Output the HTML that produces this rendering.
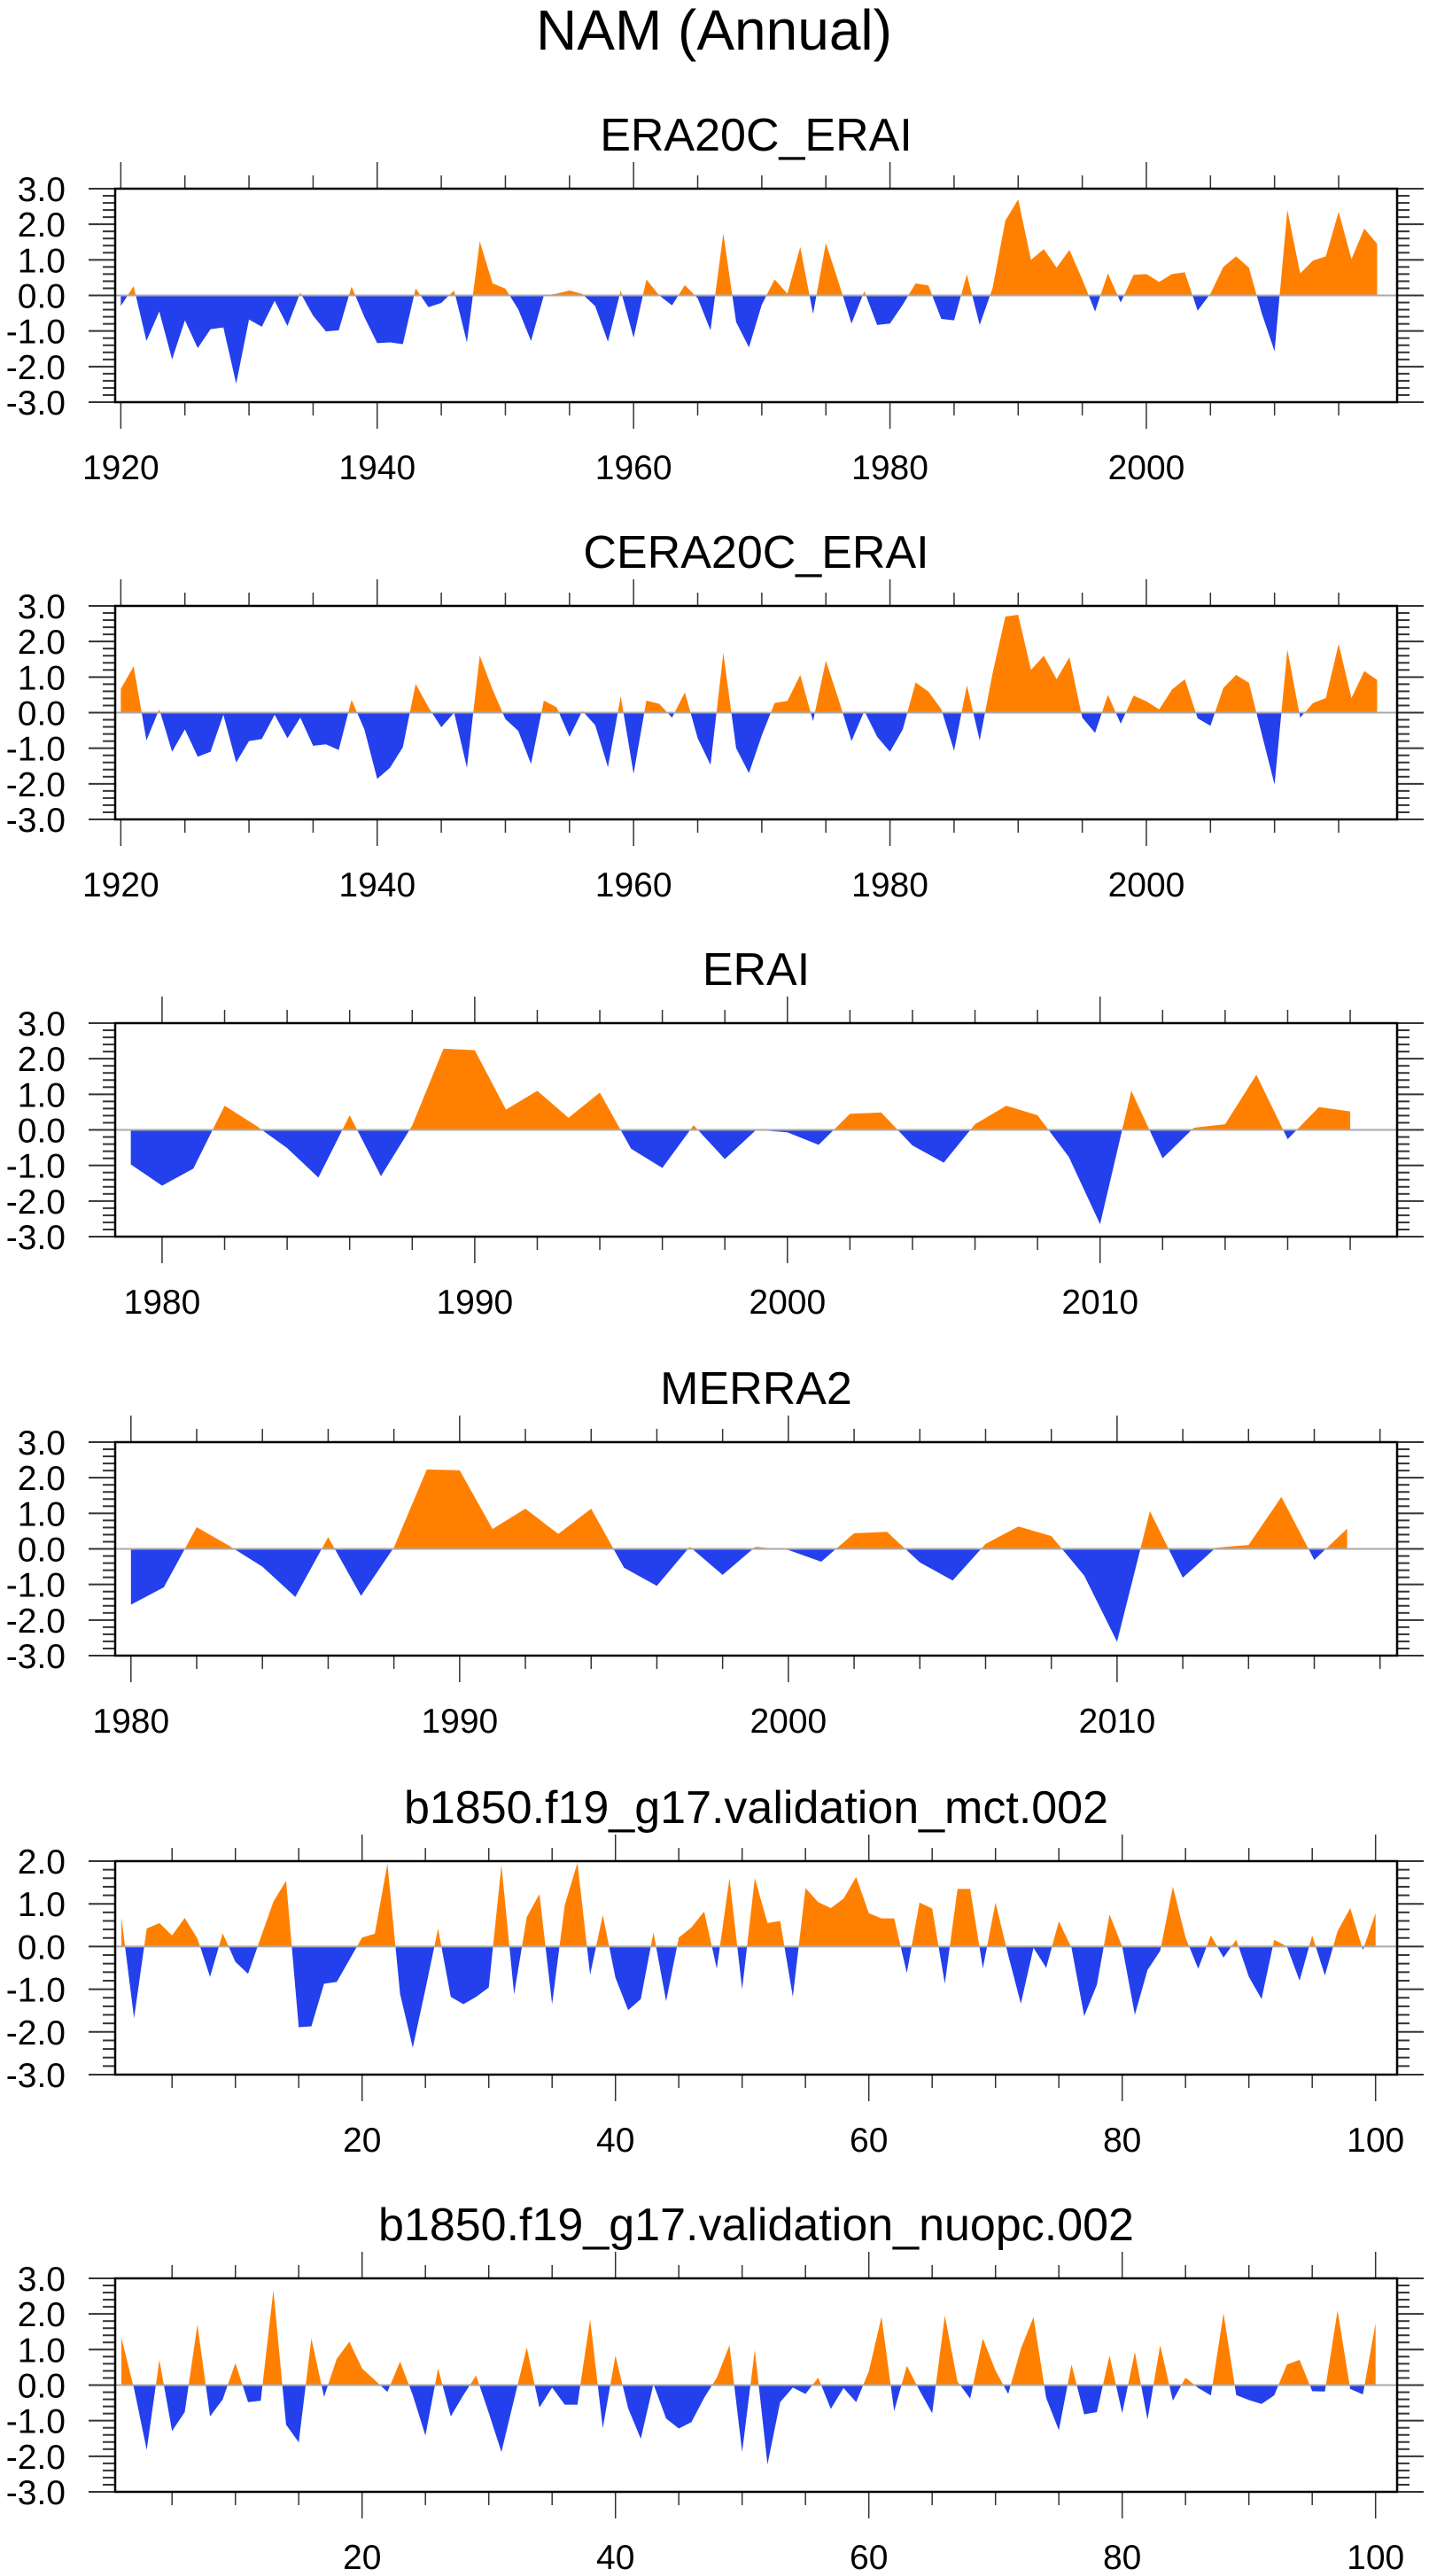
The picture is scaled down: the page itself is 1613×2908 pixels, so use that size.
<!DOCTYPE html>
<html><head><meta charset="utf-8"><style>
html,body{margin:0;padding:0;background:#fff;}
svg{display:block;font-family:"Liberation Sans",Arial,sans-serif;}
</style></head><body>
<svg id="chart" width="1613" height="2908" viewBox="0 0 1613 2908" xmlns="http://www.w3.org/2000/svg">
<text x="806" y="56" font-size="64" text-anchor="middle">NAM (Annual)</text>
</svg>
<script>
const era20cValues=[-0.3,0.26,-1.28,-0.45,-1.8,-0.7,-1.48,-0.95,-0.9,-2.48,-0.68,-0.88,-0.15,-0.86,0.08,-0.57,-1.01,-0.98,0.25,-0.61,-1.34,-1.32,-1.37,0.2,-0.33,-0.21,0.14,-1.32,1.52,0.34,0.19,-0.39,-1.28,0,0.05,0.14,0.04,-0.3,-1.3,0.14,-1.19,0.45,0,-0.28,0.29,-0.08,-0.98,1.74,-0.75,-1.46,-0.26,0.45,0.05,1.36,-0.52,1.47,0.36,-0.79,0.12,-0.83,-0.79,-0.26,0.34,0.28,-0.66,-0.7,0.59,-0.83,0.2,2.1,2.7,1.0,1.3,0.78,1.28,0.45,-0.45,0.62,-0.2,0.58,0.6,0.38,0.6,0.65,-0.43,0.05,0.8,1.1,0.78,-0.5,-1.57,2.4,0.62,0.98,1.1,2.35,1.02,1.88,1.45];
const cera20cValues=[0.67,1.3,-0.78,0.1,-1.1,-0.47,-1.24,-1.1,-0.06,-1.4,-0.8,-0.74,-0.06,-0.72,-0.14,-0.93,-0.89,-1.05,0.36,-0.47,-1.86,-1.55,-0.97,0.81,0.15,-0.41,0,-1.55,1.6,0.65,-0.18,-0.51,-1.44,0.34,0.15,-0.68,0.05,-0.35,-1.53,0.46,-1.72,0.34,0.25,-0.14,0.57,-0.72,-1.47,1.68,-1.0,-1.7,-0.64,0.27,0.33,1.06,-0.24,1.46,0.36,-0.8,0.05,-0.68,-1.1,-0.47,0.85,0.59,0.1,-1.07,0.77,-0.78,1.1,2.7,2.75,1.2,1.6,0.94,1.56,-0.14,-0.57,0.5,-0.31,0.48,0.32,0.09,0.65,0.94,-0.16,-0.37,0.69,1.06,0.84,-0.6,-2.02,1.77,-0.14,0.27,0.41,1.93,0.41,1.17,0.92];
const eraiValues=[-0.97,-1.57,-1.09,0.68,0.12,-0.51,-1.34,0.41,-1.3,0.12,2.28,2.24,0.57,1.1,0.34,1.05,-0.53,-1.07,0.13,-0.82,0,-0.07,-0.42,0.45,0.49,-0.44,-0.92,0.16,0.68,0.41,-0.76,-2.65,1.1,-0.8,0.06,0.16,1.55,-0.26,0.64,0.52];
const merra2Values=[-1.57,-1.08,0.61,0.08,-0.5,-1.35,0.33,-1.32,0.04,2.23,2.21,0.56,1.13,0.42,1.13,-0.53,-1.04,0.06,-0.73,0.06,-0.03,-0.36,0.44,0.48,-0.38,-0.89,0.14,0.63,0.36,-0.75,-2.61,1.06,-0.81,0.03,0.11,1.46,-0.31,0.57];
const mctValues=[0.68,-1.68,0.42,0.55,0.26,0.67,0.19,-0.71,0.31,-0.36,-0.64,0.21,1.05,1.54,-1.89,-1.87,-0.87,-0.83,-0.31,0.21,0.3,1.94,-1.11,-2.37,-1.0,0.42,-1.18,-1.35,-1.18,-0.96,1.91,-1.12,0.69,1.23,-1.35,0.97,1.96,-0.66,0.74,-0.73,-1.49,-1.23,0.33,-1.28,0.21,0.45,0.82,-0.52,1.6,-1.0,1.6,0.55,0.6,-1.18,1.37,1.04,0.9,1.12,1.63,0.78,0.66,0.66,-0.62,1.03,0.89,-0.87,1.35,1.35,-0.51,1.03,-0.2,-1.34,-0.03,-0.5,0.59,-0.03,-1.63,-0.9,0.75,0,-1.6,-0.55,-0.1,1.4,0.21,-0.52,0.26,-0.26,0.16,-0.71,-1.23,0.16,0,-0.8,0.26,-0.68,0.36,0.9,-0.08,0.78];
const nuopcValues=[1.33,-0.1,-1.82,0.71,-1.29,-0.76,1.7,-0.88,-0.4,0.62,-0.48,-0.44,2.67,-1.11,-1.61,1.31,-0.33,0.74,1.22,0.47,0.14,-0.19,0.66,-0.28,-1.42,0.47,-0.88,-0.28,0.27,-0.78,-1.88,-0.4,1.06,-0.63,-0.07,-0.55,-0.55,1.85,-1.21,0.83,-0.65,-1.51,0.03,-0.94,-1.22,-1.04,-0.36,0.21,1.12,-1.88,0.99,-2.23,-0.48,-0.07,-0.25,0.21,-0.67,-0.08,-0.48,0.39,1.92,-0.73,0.54,-0.15,-0.79,1.95,0.1,-0.38,1.31,0.41,-0.25,1.02,1.91,-0.36,-1.27,0.58,-0.82,-0.76,0.83,-0.79,0.93,-0.97,1.12,-0.44,0.21,-0.08,-0.29,2.02,-0.28,-0.42,-0.53,-0.29,0.58,0.71,-0.17,-0.18,2.1,-0.11,-0.26,1.74];
const panelTitles=["ERA20C_ERAI","CERA20C_ERAI","ERAI","MERRA2","b1850.f19_g17.validation_mct.002","b1850.f19_g17.validation_nuopc.002"];
const panelStarts=[1920,1920,1979,1980,1,1];
const yTickLabels=["3.0","2.0","1.0","0.0","-1.0","-2.0","-3.0"];

const NS="http://www.w3.org/2000/svg";
const svg=document.getElementById('chart');
function mk(tag,attrs,parent){const e=document.createElementNS(NS,tag);for(const k in attrs)e.setAttribute(k,attrs[k]);(parent||svg).appendChild(e);return e;}

const L=130,R=1577,H=241;
const tops=[213,684,1155,1628,2101,2572];
const cfg=[
 {vals:era20cValues,xmin:1919.56,xmax:2019.56,ymin:-3,ymax:3,major:20,minor:5,mstart:1920},
 {vals:cera20cValues,xmin:1919.56,xmax:2019.56,ymin:-3,ymax:3,major:20,minor:5,mstart:1920},
 {vals:eraiValues,xmin:1978.5,xmax:2019.5,ymin:-3,ymax:3,major:10,minor:2,mstart:1980},
 {vals:merra2Values,xmin:1979.52,xmax:2018.52,ymin:-3,ymax:3,major:10,minor:2,mstart:1980},
 {vals:mctValues,xmin:0.51,xmax:101.7,ymin:-3,ymax:2,major:20,minor:5,mstart:20},
 {vals:nuopcValues,xmin:0.51,xmax:101.7,ymin:-3,ymax:3,major:20,minor:5,mstart:20}
];

cfg.forEach((c,p)=>{
  const T=tops[p],B=T+H;
  const xs=v=>L+(v-c.xmin)/(c.xmax-c.xmin)*(R-L);
  const ys=v=>B-(v-c.ymin)/(c.ymax-c.ymin)*H;
  const g=mk('g',{});
  
  
  const t=mk('text',{x:(L+R)/2,y:T-43,'font-size':52,'text-anchor':'middle'},g);
  t.textContent=panelTitles[p];
  
  
  const z=ys(0);
  const pts=c.vals.map((v,i)=>xs(panelStarts[p]+i).toFixed(2)+','+ys(v).toFixed(2));
  const x0=xs(panelStarts[p]).toFixed(2),x1=xs(panelStarts[p]+c.vals.length-1).toFixed(2);
  const d='M'+x0+','+z+' L'+pts.join(' L')+' L'+x1+','+z+' Z';
  mk('clipPath',{id:'ca'+p},g).appendChild(Object.assign(document.createElementNS(NS,'rect'),{})).setAttribute('x',0);
  const ca=document.getElementById('ca'+p).firstChild;ca.setAttribute('y',0);ca.setAttribute('width',1613);ca.setAttribute('height',z);
  const cb=mk('clipPath',{id:'cb'+p},g);mk('rect',{x:0,y:z,width:1613,height:2908},cb);
  const pa=mk('path',{d:d,fill:'#ff8000','clip-path':'url(#ca'+p+')'},g);
  
  
  const pb=mk('path',{d:d,fill:'#2440ec','clip-path':'url(#cb'+p+')'},g);
  
  
  mk('line',{x1:L,x2:R,y1:z,y2:z,stroke:'#aaa','stroke-width':2},g);
  // y ticks
  for(let v=c.ymin;v<=c.ymax+1e-6;v+=0.2){
    const y=ys(v),maj=Math.abs(v-Math.round(v))<1e-6,len=maj?30:14;
    mk('line',{x1:L-len,x2:L,y1:y,y2:y,stroke:'#333','stroke-width':2},g);
    mk('line',{x1:R,x2:R+len,y1:y,y2:y,stroke:'#333','stroke-width':2},g);
  }
  yTickLabels.forEach(s=>{
    const v=parseFloat(s);if(v>c.ymax||v<c.ymin)return;
    const tl=mk('text',{x:74,y:ys(v)+14,'font-size':39,'text-anchor':'end'},g);
    tl.textContent=s;
    
    
  });
  // x ticks
  const s0=Math.ceil(c.xmin/c.minor)*c.minor;
  for(let v=s0;v<=c.xmax;v+=c.minor){
    const x=xs(v),maj=(v%c.major)===0,len=maj?30:15;
    mk('line',{x1:x,x2:x,y1:T-len,y2:T,stroke:'#333','stroke-width':1.5},g);
    mk('line',{x1:x,x2:x,y1:B,y2:B+len,stroke:'#333','stroke-width':1.5},g);
    if(maj){
      const xl=mk('text',{x:x,y:B+87,'font-size':39,'text-anchor':'middle'},g);
      xl.textContent=String(v);
      
      
    }
  }
  const box=mk('rect',{x:L,y:T,width:R-L,height:H,fill:'none',stroke:'#000','stroke-width':2.5},g);
  
  
});
</script>
</body></html>
